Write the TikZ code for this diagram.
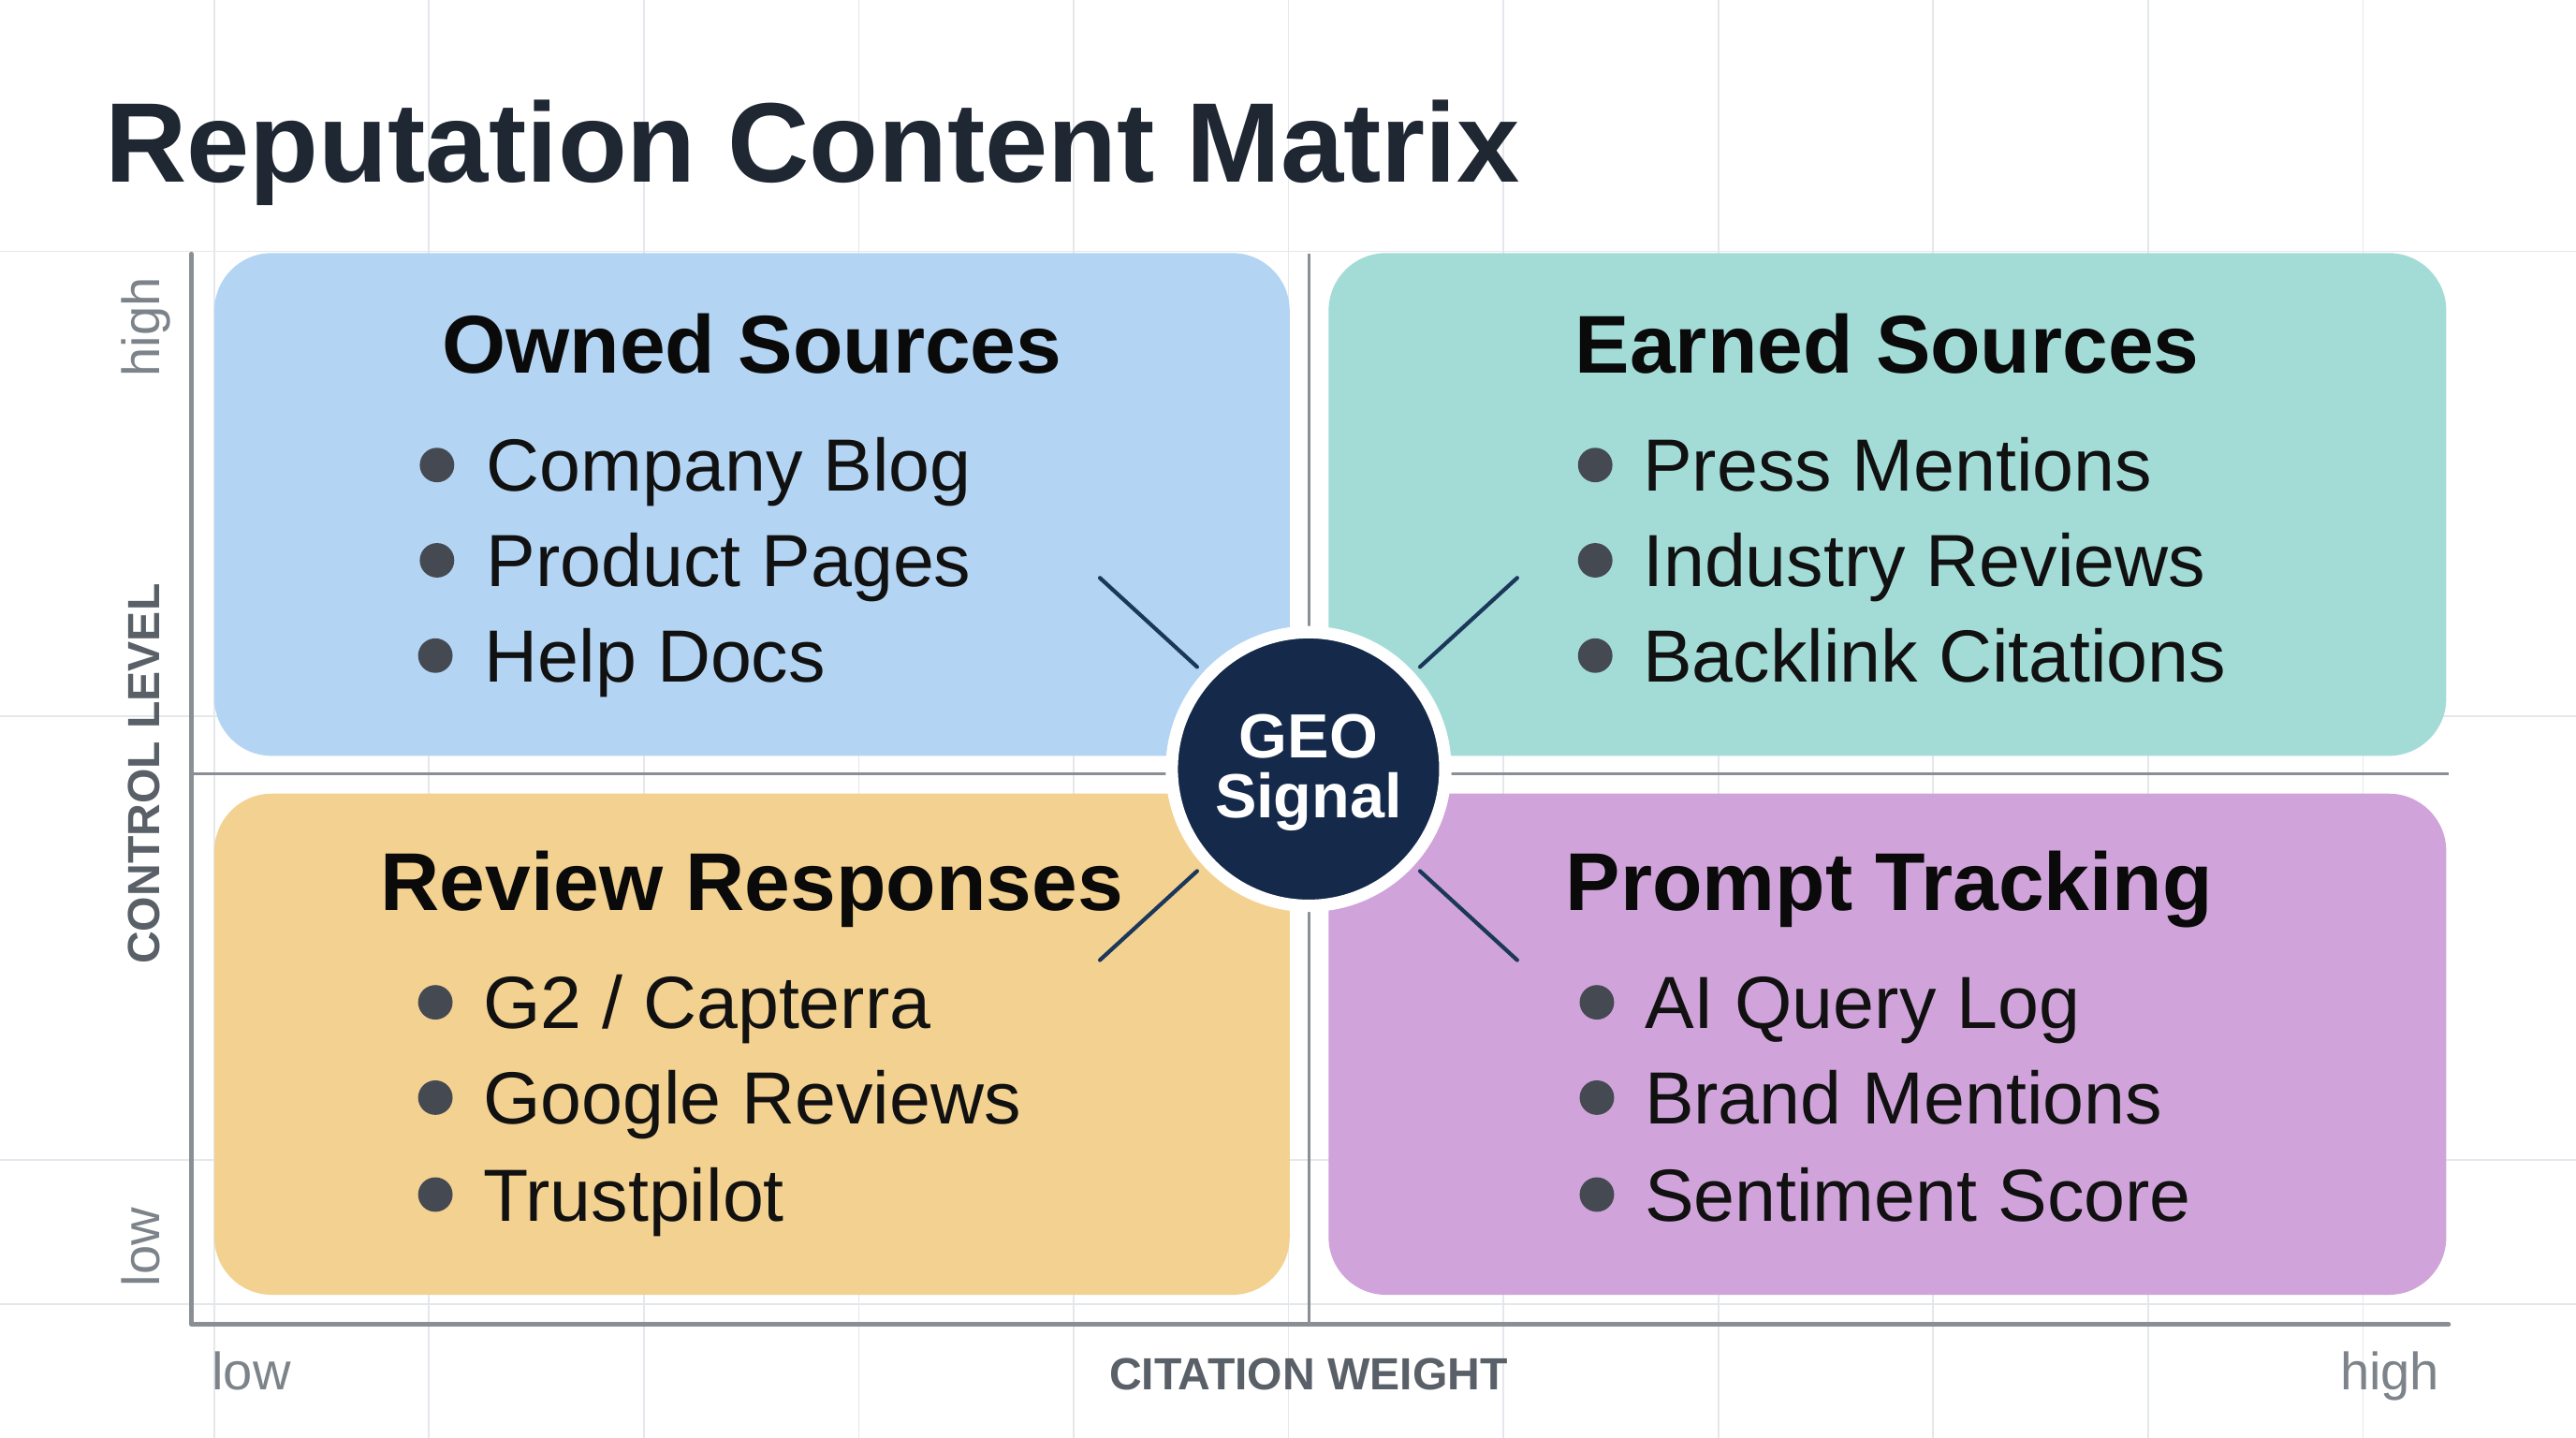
\documentclass[tikz,border=0pt]{standalone}
\usepackage{fontspec}
\setmainfont{Liberation Sans}
\definecolor{gridc}{HTML}{E4E7EB}
\definecolor{axisc}{HTML}{8A8F96}
\definecolor{boxblue}{HTML}{B3D4F2}
\definecolor{boxteal}{HTML}{A3DCD7}
\definecolor{boxorange}{HTML}{F3D190}
\definecolor{boxpurple}{HTML}{D0A4DA}
\definecolor{navyc}{HTML}{152A4A}
\definecolor{linkc}{HTML}{1B385A}
\definecolor{dotc}{HTML}{454A52}
\definecolor{titlec}{HTML}{1F2733}
\definecolor{headc}{HTML}{0A0A0A}
\definecolor{itemc}{HTML}{111111}
\definecolor{axlabc}{HTML}{5A6068}
\definecolor{lowhighc}{HTML}{7D838A}
\tikzset{
  gridline/.style={draw=gridc, line width=1mm},
  axisline/.style={draw=axisc, line width=2.6mm, line cap=round, line join=round},
  midline/.style={draw=axisc, line width=2mm},
  quadbox/.style={rectangle, rounded corners=35mm, inner sep=0, draw=none},
  qtitle/.style={font=\fontsize{142}{160}\selectfont\bfseries, text=headc, anchor=base, inner sep=0},
  itemtext/.style={font=\fontsize{128}{150}\selectfont, text=itemc, anchor=base west, inner sep=0},
  bulletdot/.style={circle, fill=dotc, minimum size=21mm, inner sep=0},
  connector/.style={draw=linkc, line width=2.4mm, line cap=round},
  geolabel/.style={font=\fontsize{108}{120}\selectfont\bfseries, text=white, anchor=base, inner sep=0},
  axislabel/.style={font=\fontsize{78}{90}\selectfont\bfseries, text=axlabc, inner sep=0},
  endlabel/.style={font=\fontsize{91}{100}\selectfont, text=lowhighc, inner sep=0}
}
\begin{document}
\begin{tikzpicture}[x=1mm,y=-1mm]
\useasboundingbox (0,0) rectangle (1568,875.16);
\fill[white] (0,0) rectangle (1568,875.16);
% grid
\foreach \gx in {130.3,261.1,391.9,522.7,653.5,784.3,915.1,1045.9,1176.7,1307.5,1438.3}
  \draw[gridline] (\gx,0) -- (\gx,875.16);
\foreach \gy in {153,436,706,793.5}
  \draw[gridline] (0,\gy) -- (1568,\gy);
% title
\node[font=\fontsize{196}{230}\selectfont\bfseries, text=titlec, anchor=base west, inner sep=0] (title) at (64,111) {Reputation Content Matrix};
% center lines and axes
\draw[midline] (796.7,154.5) -- (796.7,806);
\draw[midline] (116.5,471) -- (1490.5,471);
\draw[axisline] (116.5,154.5) -- (116.5,806) -- (1490.5,806);
% quadrants
\node[quadbox, fill=boxblue, minimum width=654.5mm, minimum height=306mm] (owned) at (457.75,307) {};
\node[quadbox, fill=boxteal, minimum width=680.3mm, minimum height=306mm] (earned) at (1148.85,307) {};
\node[quadbox, fill=boxorange, minimum width=654.5mm, minimum height=305mm] (review) at (457.75,635.5) {};
\node[quadbox, fill=boxpurple, minimum width=680.3mm, minimum height=305mm] (prompt) at (1148.85,635.5) {};
% headings
\node[qtitle] (owndt) at (457.7,227) {Owned Sources};
\node[qtitle] (earnt) at (1148.8,227) {Earned Sources};
\node[qtitle] (revt) at (457.7,554) {Review Responses};
\node[qtitle] (prmt) at (1150,554) {Prompt Tracking};
% items: owned
\node[bulletdot] (b11) at (266,283) {};
\node[itemtext] (i11) at (296,299) {Company Blog};
\node[bulletdot] (b12) at (266,341) {};
\node[itemtext] (i12) at (296,357) {Product Pages};
\node[bulletdot] (b13) at (265,399) {};
\node[itemtext] (i13) at (295,415) {Help Docs};
% items: earned
\node[bulletdot] (b21) at (971,283) {};
\node[itemtext] (i21) at (1000,299) {Press Mentions};
\node[bulletdot] (b22) at (971,341) {};
\node[itemtext] (i22) at (1000,357) {Industry Reviews};
\node[bulletdot] (b23) at (971,399) {};
\node[itemtext] (i23) at (1000,415) {Backlink Citations};
% items: review
\node[bulletdot] (b31) at (265,610) {};
\node[itemtext] (i31) at (294,626) {G2 / Capterra};
\node[bulletdot] (b32) at (265,668) {};
\node[itemtext] (i32) at (294,684) {Google Reviews};
\node[bulletdot] (b33) at (265,727) {};
\node[itemtext] (i33) at (294,743) {Trustpilot};
% items: prompt
\node[bulletdot] (b41) at (972,610) {};
\node[itemtext] (i41) at (1001,626) {AI Query Log};
\node[bulletdot] (b42) at (972,668) {};
\node[itemtext] (i42) at (1001,684) {Brand Mentions};
\node[bulletdot] (b43) at (972,727) {};
\node[itemtext] (i43) at (1001,743) {Sentiment Score};
% center circle
\node[circle, fill=navyc, draw=white, line width=7.5mm, minimum size=166.5mm, inner sep=0] (geo) at (796.5,468) {};
\node[geolabel] (geo1) at (796.5,461.5) {GEO};
\node[geolabel] (geo2) at (796.5,497.6) {Signal};
% connectors
\coordinate (c1) at (669.5,351.7);
\coordinate (c2) at (923.5,351.7);
\coordinate (c3) at (669.5,584.3);
\coordinate (c4) at (923.5,584.3);
\foreach \c in {c1,c2,c3,c4}
  \draw[connector, shorten <=5mm] (geo) -- (\c);
% axis labels
\node[axislabel, rotate=90, anchor=base] (ylab) at (97.3,471) {CONTROL LEVEL};
\node[endlabel, rotate=90, anchor=base] (yhigh) at (97.3,199) {high};
\node[endlabel, rotate=90, anchor=base] (ylow) at (97.3,759) {low};
\node[axislabel, anchor=base] (xlab) at (796.5,846) {CITATION WEIGHT};
\node[endlabel, anchor=base west] (xlow) at (129,846) {low};
\node[endlabel, anchor=base east] (xhigh) at (1485,846) {high};
\end{tikzpicture}
\end{document}
